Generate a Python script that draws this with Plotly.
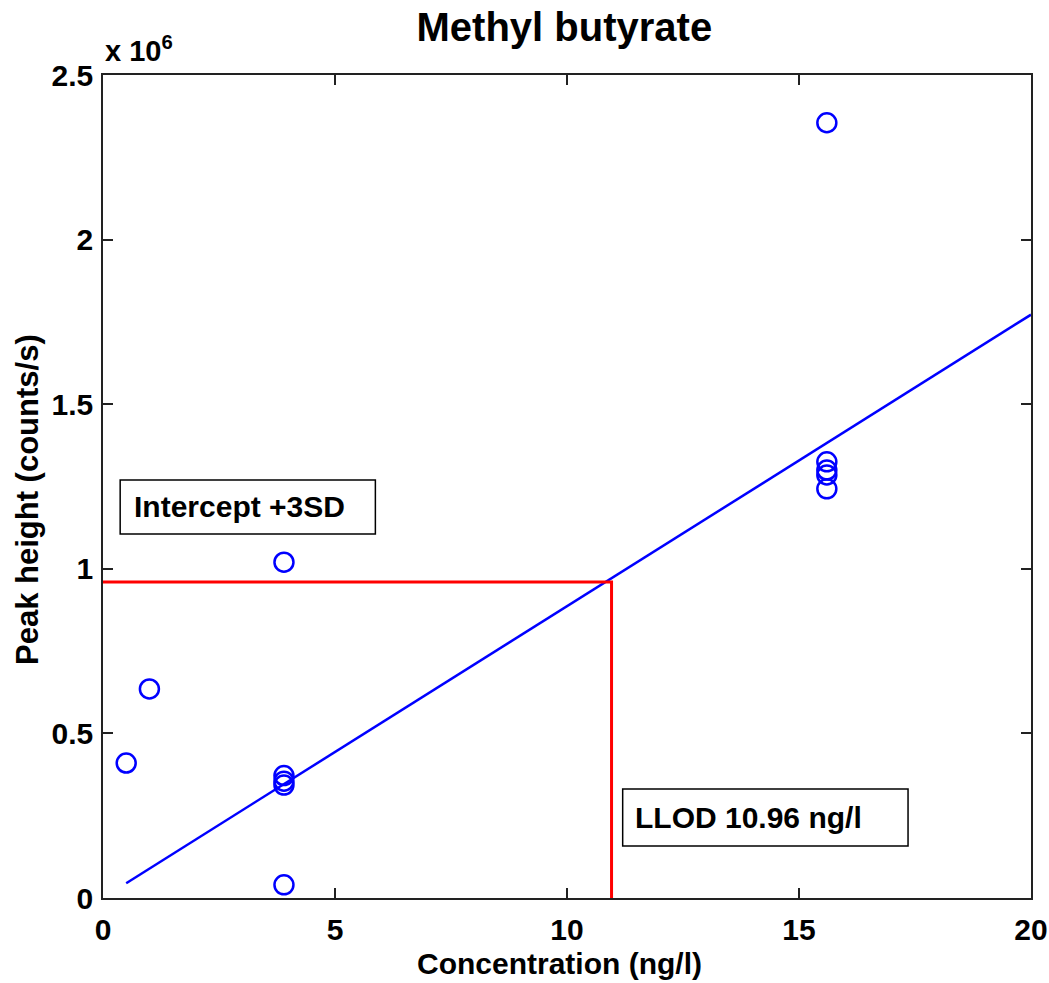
import plotly.graph_objects as go

# Data (peak height in units of 10^6 counts/s)
conc = [0.5, 1.0, 3.9, 3.9, 3.9, 3.9, 3.9, 15.6, 15.6, 15.6, 15.6, 15.6]
peak = [0.41, 0.635, 1.02, 0.372, 0.355, 0.343, 0.04, 2.355, 1.325, 1.30, 1.285, 1.243]

fit_x = [0.5, 20.0]
fit_y = [0.045, 1.772]

llod = 10.96
intercept_3sd = 0.96

x_ticks = [0, 5, 10, 15, 20]
y_ticks = [0, 0.5, 1, 1.5, 2, 2.5]
y_ticktext = ["0", "0.5", "1", "1.5", "2", "2.5"]

FONT = "Liberation Sans, Arial, sans-serif"
BLUE = "rgb(0,0,255)"
RED = "rgb(255,0,0)"

fig = go.Figure()

fig.add_trace(go.Scatter(x=fit_x, y=fit_y, mode="lines",
                         line=dict(color=BLUE, width=2.5), showlegend=False))
fig.add_trace(go.Scatter(x=[0, llod, llod], y=[intercept_3sd, intercept_3sd, -0.012],
                         mode="lines", line=dict(color=RED, width=3),
                         showlegend=False, cliponaxis=False))
fig.add_trace(go.Scatter(x=conc, y=peak, mode="markers",
                         marker=dict(symbol="circle-open", size=19,
                                     line=dict(color=BLUE, width=2.5), color=BLUE),
                         showlegend=False))

# Text boxes
fig.add_shape(type="rect", x0=0.37, x1=5.87, y0=1.106, y1=1.27,
              line=dict(color="black", width=1.5), fillcolor="white", layer="above")
fig.add_annotation(x=0.62, y=1.188, text="Intercept +3SD", showarrow=False,
                   xanchor="left", yanchor="middle",
                   font=dict(family=FONT, size=30, color="black", weight="bold"))
fig.add_shape(type="rect", x0=11.2, x1=17.35, y0=0.158, y1=0.331,
              line=dict(color="black", width=1.5), fillcolor="white", layer="above")
fig.add_annotation(x=11.42, y=0.244, text="LLOD 10.96 ng/l", showarrow=False,
                   xanchor="left", yanchor="middle",
                   font=dict(family=FONT, size=30, color="black", weight="bold"))

# x 10^6 multiplier
fig.add_annotation(xref="paper", yref="paper", x=0.0, y=1.0, yshift=6,
                   text="x 10<sup>6</sup>", showarrow=False,
                   xanchor="left", yanchor="bottom",
                   font=dict(family=FONT, size=29, color="black", weight="bold"))

# Axis titles as annotations
fig.add_annotation(xref="paper", yref="paper", x=0.4914, y=0.0, yshift=-65,
                   text="Concentration (ng/l)", showarrow=False,
                   xanchor="center", yanchor="middle",
                   font=dict(family=FONT, size=30, color="black", weight="bold"))
fig.add_annotation(xref="paper", yref="paper", x=0.0, y=0.4836, xshift=-75,
                   text="Peak height (counts/s)", showarrow=False, textangle=-90,
                   xanchor="center", yanchor="middle",
                   font=dict(family=FONT, size=31, color="black", weight="bold"))

axis_common = dict(
    showline=True, linecolor="#222", linewidth=1.5, mirror="allticks",
    ticks="inside", ticklen=10, tickwidth=1.5, tickcolor="#222",
    showgrid=False, zeroline=False, automargin=False,
    tickfont=dict(family=FONT, size=30, color="black", weight="bold"),
)

fig.update_xaxes(range=[0, 20], tickvals=x_ticks, ticklabelstandoff=4, **axis_common)
fig.update_yaxes(range=[0, 2.5], tickvals=y_ticks, ticktext=y_ticktext,
                 ticklabelstandoff=2, **axis_common)

fig.update_layout(
    width=1049, height=983,
    margin=dict(l=103, r=18, t=75, b=85),
    plot_bgcolor="white", paper_bgcolor="white",
    title=dict(text="Methyl butyrate", x=0.538, xanchor="center", y=0.987, yanchor="top",
               font=dict(family=FONT, size=40, color="black", weight="bold")),
)

fig.write_html("out.html")
